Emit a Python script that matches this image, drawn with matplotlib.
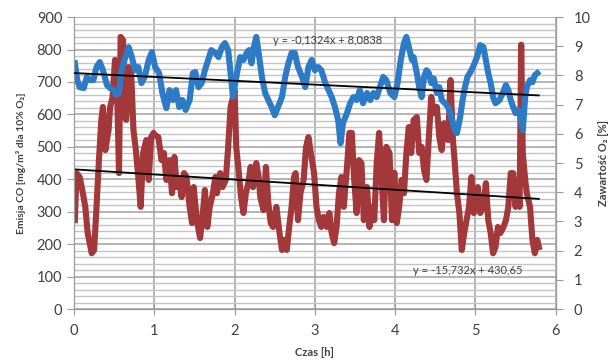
import matplotlib.pyplot as plt
from matplotlib.ticker import MultipleLocator

plt.rcParams['font.family'] = ['Lato', 'DejaVu Sans']

# CO emission [mg/m3 @ 10% O2] vs time [h]
t_co = [0.01, 0.03, 0.07, 0.11, 0.14, 0.17, 0.22, 0.25, 0.28, 0.31, 0.34, 0.36,
        0.39, 0.43, 0.45, 0.48, 0.51, 0.53, 0.56, 0.58, 0.61, 0.63, 0.65, 0.68,
        0.71, 0.74, 0.77, 0.80, 0.83, 0.86, 0.90, 0.93, 0.96, 0.99, 1.01, 1.05,
        1.09, 1.12, 1.15, 1.19, 1.22, 1.25, 1.28, 1.31, 1.34, 1.37, 1.40, 1.44,
        1.47, 1.49, 1.53, 1.57, 1.60, 1.63, 1.66, 1.69, 1.73, 1.76, 1.78, 1.82,
        1.85, 1.89, 1.92, 1.95, 1.98, 2.00, 2.02, 2.05, 2.08, 2.11, 2.14, 2.17,
        2.20, 2.23, 2.27, 2.30, 2.32, 2.36, 2.39, 2.42, 2.45, 2.48, 2.52, 2.56,
        2.59, 2.62, 2.65, 2.68, 2.71, 2.74, 2.76, 2.79, 2.82, 2.86, 2.89, 2.92,
        2.95, 2.99, 3.02, 3.05, 3.08, 3.11, 3.15, 3.18, 3.21, 3.24, 3.27, 3.30,
        3.33, 3.36, 3.40, 3.43, 3.46, 3.49, 3.52, 3.55, 3.58, 3.61, 3.65, 3.68,
        3.71, 3.74, 3.77, 3.80, 3.83, 3.86, 3.89, 3.93, 3.96, 3.99, 4.02, 4.05,
        4.08, 4.11, 4.14, 4.17, 4.20, 4.23, 4.27, 4.30, 4.33, 4.36, 4.39, 4.42,
        4.45, 4.48, 4.52, 4.55, 4.58, 4.61, 4.63, 4.66, 4.69, 4.72, 4.74, 4.77,
        4.80, 4.83, 4.86, 4.89, 4.92, 4.95, 4.98, 5.01, 5.03, 5.06, 5.10, 5.13,
        5.16, 5.19, 5.22, 5.25, 5.28, 5.31, 5.35, 5.38, 5.41, 5.44, 5.47, 5.50,
        5.53, 5.55, 5.57, 5.59, 5.62, 5.64, 5.68, 5.71, 5.74, 5.77, 5.79]
co = [274, 419, 407, 357, 315, 234, 172, 182, 315, 459, 583, 623,
      490, 552, 623, 654, 768, 737, 419, 839, 829, 592, 583, 746,
      737, 552, 490, 407, 315, 481, 521, 398, 530, 543, 536, 530,
      459, 481, 398, 459, 357, 469, 376, 398, 345, 419, 407, 315,
      265, 376, 274, 219, 284, 367, 253, 315, 357, 407, 357, 419,
      376, 398, 500, 623, 654, 675, 500, 428, 345, 296, 357, 388,
      438, 376, 450, 407, 345, 305, 438, 327, 265, 253, 315, 234,
      182, 213, 182, 253, 315, 407, 419, 274, 357, 398, 500, 530,
      481, 419, 315, 274, 253, 284, 253, 296, 234, 203, 253, 357,
      407, 315, 438, 543, 543, 398, 296, 459, 450, 274, 376, 253,
      315, 274, 450, 543, 407, 274, 500, 481, 274, 420, 265, 315,
      398, 357, 481, 561, 481, 583, 592, 481, 500, 428, 398, 530,
      654, 604, 623, 530, 490, 573, 543, 521, 706, 521, 459, 357,
      296, 182, 234, 274, 315, 407, 296, 345, 376, 296, 315, 388,
      274, 234, 172, 191, 253, 234, 253, 274, 315, 419, 419, 315,
      398, 315, 815, 481, 398, 357, 315, 213, 172, 213, 191]

# O2 content [%] vs time [h]
t_o2 = [0.01, 0.04, 0.07, 0.12, 0.16, 0.20, 0.24, 0.28, 0.32, 0.36, 0.41, 0.45,
        0.49, 0.53, 0.56, 0.59, 0.64, 0.68, 0.72, 0.76, 0.80, 0.84, 0.88, 0.93,
        0.97, 1.01, 1.06, 1.10, 1.15, 1.19, 1.23, 1.27, 1.31, 1.35, 1.39, 1.44,
        1.48, 1.51, 1.55, 1.59, 1.63, 1.67, 1.71, 1.76, 1.80, 1.84, 1.88, 1.92,
        1.95, 1.98, 2.00, 2.03, 2.07, 2.11, 2.15, 2.18, 2.21, 2.24, 2.27, 2.30,
        2.34, 2.38, 2.42, 2.46, 2.50, 2.54, 2.59, 2.63, 2.67, 2.71, 2.75, 2.79,
        2.84, 2.88, 2.92, 2.96, 3.00, 3.04, 3.08, 3.13, 3.17, 3.21, 3.25, 3.29,
        3.32, 3.35, 3.40, 3.44, 3.48, 3.52, 3.56, 3.60, 3.65, 3.69, 3.73, 3.77,
        3.81, 3.85, 3.89, 3.94, 3.99, 4.03, 4.07, 4.11, 4.14, 4.18, 4.21, 4.23,
        4.27, 4.30, 4.33, 4.36, 4.39, 4.42, 4.45, 4.48, 4.52, 4.55, 4.58, 4.62,
        4.66, 4.70, 4.74, 4.77, 4.81, 4.84, 4.87, 4.90, 4.93, 4.97, 5.02, 5.06,
        5.10, 5.13, 5.16, 5.19, 5.22, 5.25, 5.30, 5.34, 5.38, 5.41, 5.44, 5.47,
        5.50, 5.53, 5.56, 5.59, 5.62, 5.64, 5.68, 5.71, 5.74, 5.77]
o2 = [8.42, 7.84, 7.60, 7.57, 7.95, 7.84, 7.84, 8.29, 8.46, 8.18, 7.67, 7.57,
      7.50, 7.33, 7.40, 8.18, 8.63, 8.97, 8.63, 8.18, 8.29, 7.74, 7.95, 8.53,
      8.80, 8.29, 8.08, 7.40, 6.88, 7.50, 7.16, 7.50, 6.92, 7.16, 6.82, 7.16,
      8.08, 8.12, 7.60, 7.74, 8.18, 8.53, 8.87, 8.77, 8.63, 8.97, 9.11, 8.87,
      8.08, 7.26, 7.60, 8.08, 8.63, 8.53, 8.77, 8.87, 8.42, 8.97, 9.32, 8.77,
      7.95, 7.40, 7.16, 6.92, 6.64, 6.92, 7.26, 7.95, 8.42, 8.77, 8.77, 8.29,
      7.95, 7.60, 8.29, 8.53, 8.18, 8.29, 8.18, 7.74, 7.50, 7.26, 6.92, 6.47,
      5.68, 6.37, 6.71, 7.05, 7.26, 7.16, 7.50, 7.05, 7.40, 7.16, 7.40, 7.26,
      7.60, 7.95, 7.84, 7.40, 7.26, 7.74, 8.53, 9.11, 9.32, 8.87, 8.53, 8.63,
      8.08, 7.60, 7.26, 7.95, 8.18, 8.08, 7.74, 7.90, 7.40, 7.60, 7.16, 7.05,
      6.92, 6.58, 6.13, 6.03, 6.58, 7.16, 7.60, 7.95, 8.08, 8.29, 8.63, 9.04,
      8.97, 8.53, 8.08, 7.74, 7.26, 7.05, 7.16, 7.40, 7.67, 7.50, 7.16, 6.92,
      6.71, 6.82, 6.58, 6.13, 7.26, 7.60, 7.84, 7.77, 8.01, 8.08]

# linear trends
co_slope, co_icpt = -15.732, 430.65
o2_slope, o2_icpt = -0.1324, 8.0838
co_eq = 'y = -15,732x + 430,65'
o2_eq = 'y = -0,1324x + 8,0838'

red = '#A3383A'
blue = '#2D7BC6'
axis_gray = '#9A9A9A'
text_gray = '#404040'

fig = plt.figure(figsize=(6.12, 3.64), dpi=100)
ax = fig.add_axes([0.121, 0.151, 0.787, 0.802])
ax2 = ax.twinx()

# grid: major every 100, minor every 20, vertical at each hour
ax.set_xlim(0, 6)
ax.set_ylim(0, 900)
ax.xaxis.set_major_locator(MultipleLocator(1))
ax.yaxis.set_major_locator(MultipleLocator(100))
ax.yaxis.set_minor_locator(MultipleLocator(20))
ax.yaxis.grid(True, which='minor', color='#C4C4C4', lw=1.0)
ax.yaxis.grid(True, which='major', color='#A0A0A0', lw=1.1)
ax.xaxis.grid(True, which='major', color='#A0A0A0', lw=1.1)
ax.set_axisbelow(True)

ax.plot(t_co, co, color=red, lw=4.4, solid_joinstyle='round', zorder=2)
tx = [0, t_co[-1]]
ax.plot(tx, [co_icpt + co_slope * x for x in tx], color='black', lw=1.3, zorder=3)

ax2.set_ylim(0, 10)
ax2.yaxis.set_major_locator(MultipleLocator(1))
ax2.plot(t_o2, o2, color=blue, lw=4.4, solid_joinstyle='round', zorder=2)
ax2.plot(tx, [o2_icpt + o2_slope * x for x in tx], color='black', lw=1.3, zorder=3)

ax2.text(2.48, 9.21, o2_eq, fontsize=8, color=text_gray, va='center', ha='left')
ax.text(4.22, 120, co_eq, fontsize=8, color=text_gray, va='center', ha='left')

for a in (ax, ax2):
    for s in a.spines.values():
        s.set_color(axis_gray)
    a.spines['top'].set_visible(False)
ax.tick_params(axis='both', which='major', colors=axis_gray, labelcolor=text_gray,
               labelsize=10.5, length=5, direction='out')
ax.tick_params(axis='x', direction='inout', length=8, pad=7)
ax.tick_params(axis='y', which='minor', length=0)
ax2.tick_params(axis='y', colors=axis_gray, labelcolor=text_gray, labelsize=10.5,
                length=5, direction='out', pad=8)

ax.set_xlabel('Czas [h]', fontsize=8, fontweight='bold', color=text_gray, labelpad=6)
ax.set_ylabel('Emisja CO [mg/m³ dla 10% O₂]', fontsize=7.5, fontweight='bold',
              color=text_gray, labelpad=8)
ax2.set_ylabel('Zawartość O₂ [%]', fontsize=8, fontweight='bold',
               color=text_gray, rotation=90, labelpad=5)

fig.savefig('out.png', dpi=100, facecolor='white')
